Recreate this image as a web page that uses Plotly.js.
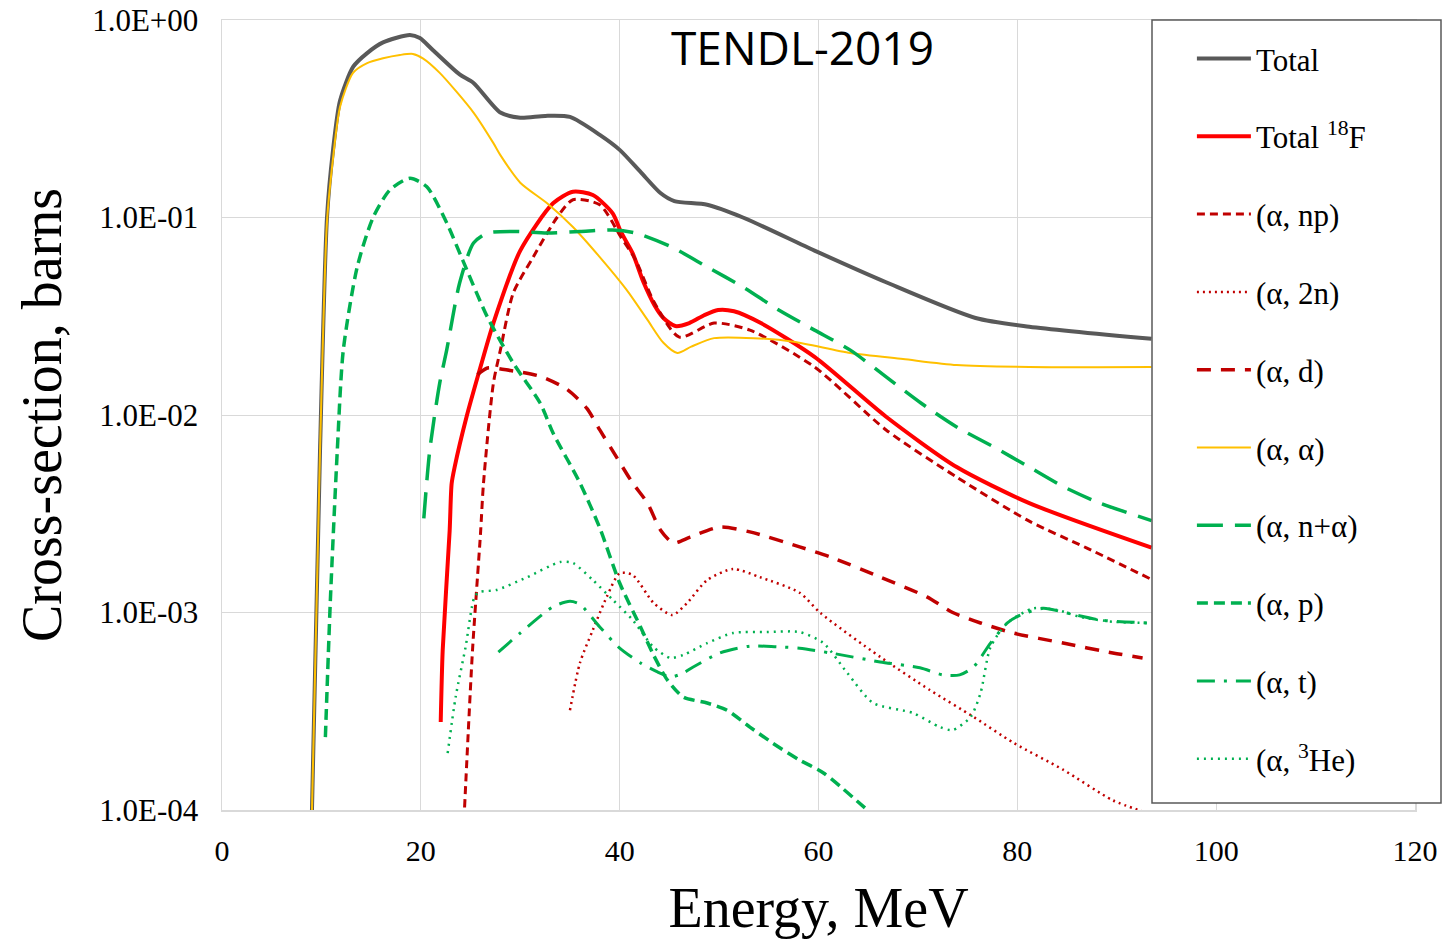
<!DOCTYPE html>
<html>
<head>
<meta charset="utf-8">
<script src="https://cdn.plot.ly/plotly-3.0.1.min.js"></script>
<style>html,body{margin:0;padding:0;background:#fff;}#chart{width:1443px;height:942px;}</style>
</head>
<body>
<div id="chart"></div>
<script>
// ---- data (energy in MeV, cross-section in barns) ----
const totalE = [9.05, 9.86, 10.56, 11.17, 11.87, 13.2, 14.6, 16.2, 18.9, 19.9, 21.2, 23.9, 25.3, 28.0, 30.0, 32.5, 35.0, 38.0, 40.0, 42.1, 44.1, 45.5, 48.8, 52.4, 59.6, 66.8, 75.8, 81.2, 93.5];
const totalS = [1.0e-4, 0.0066, 0.10, 0.22, 0.39, 0.58, 0.68, 0.77, 0.84, 0.81, 0.705, 0.53, 0.48, 0.34, 0.32, 0.327, 0.323, 0.262, 0.22, 0.17, 0.133, 0.121, 0.116, 0.10, 0.068, 0.047, 0.031, 0.028, 0.0243];

const f18E = [22.0, 22.2, 22.9, 23.1, 23.4, 24.6, 26.0, 27.3, 30.0, 33.3, 35.3, 37.3, 39.3, 40.1, 41.3, 42.4, 43.5, 44.4, 45.6, 47.0, 48.5, 49.9, 51.5, 54.2, 59.6, 66.8, 73.9, 81.2, 93.5];
const f18S = [2.79e-4, 6.46e-4, 2.6e-3, 4.5e-3, 5.45e-3, 9.8e-3, 0.0175, 0.0292, 0.068, 0.118, 0.135, 0.13, 0.105, 0.085, 0.066, 0.047, 0.036, 0.031, 0.0282, 0.0292, 0.032, 0.034, 0.0335, 0.0292, 0.0197, 0.0098, 0.00545, 0.00358, 0.00213];

const npE = [24.4, 25.2, 26.0, 26.3, 27.3, 28.0, 29.3, 31.3, 33.7, 35.3, 38.0, 40.1, 41.6, 43.5, 46.0, 49.5, 53.1, 59.6, 66.8, 73.9, 81.2, 87.0, 93.5];
const npS = [1.03e-4, 6.46e-4, 2.5e-3, 4.5e-3, 0.0145, 0.0213, 0.0415, 0.063, 0.10, 0.123, 0.116, 0.08, 0.061, 0.037, 0.0248, 0.0292, 0.0269, 0.0175, 0.0084, 0.00485, 0.0029, 0.00212, 0.00147];

const a2nE = [35.0, 36.0, 37.3, 38.7, 40.0, 41.3, 43.4, 45.3, 46.8, 48.8, 51.4, 54.1, 58.1, 60.2, 66.2, 71.2, 75.6, 79.6, 84.6, 89.6, 92.7];
const a2nS = [3.2e-4, 5.55e-4, 8.15e-4, 1.2e-3, 1.58e-3, 1.55e-3, 1.12e-3, 9.7e-4, 1.12e-3, 1.46e-3, 1.66e-3, 1.51e-3, 1.26e-3, 9.94e-4, 5.96e-4, 4.05e-4, 2.96e-4, 2.19e-4, 1.6e-4, 1.12e-4, 9.8e-5];

const adE = [25.7, 26.7, 29.0, 32.0, 34.7, 36.7, 38.0, 39.7, 41.3, 42.8, 44.1, 45.4, 47.1, 50.1, 53.1, 58.1, 61.2, 66.2, 70.9, 73.5, 76.3, 79.6, 84.6, 89.6, 92.6];
const adS = [0.0160, 0.0173, 0.0168, 0.0157, 0.0135, 0.0108, 0.0084, 0.0061, 0.00453, 0.00358, 0.00262, 0.00225, 0.00241, 0.00271, 0.00256, 0.00215, 0.00191, 0.00151, 0.0012, 0.0010, 8.85e-4, 7.87e-4, 7.0e-4, 6.24e-4, 5.89e-4];

const aaE = [9.05, 9.86, 10.56, 11.17, 11.87, 13.18, 14.6, 16.2, 17.9, 19.2, 20.2, 21.9, 25.3, 27.3, 28.0, 30.0, 32.7, 35.3, 38.0, 40.7, 42.8, 44.4, 45.8, 47.2, 49.5, 53.5, 57.5, 63.2, 68.5, 73.9, 81.2, 93.5];
const aaS = [1.0e-4, 0.0066, 0.095, 0.20, 0.363, 0.54, 0.605, 0.64, 0.665, 0.673, 0.64, 0.54, 0.34, 0.238, 0.207, 0.15, 0.118, 0.0895, 0.063, 0.043, 0.0303, 0.0232, 0.0206, 0.0222, 0.0245, 0.0245, 0.0235, 0.0206, 0.0192, 0.0179, 0.0175, 0.0175];

const naE = [20.3, 20.9, 21.9, 22.6, 23.9, 25.3, 26.7, 29.3, 32.7, 36.0, 39.3, 41.6, 45.2, 48.8, 52.4, 56.0, 59.6, 63.2, 66.8, 70.3, 73.9, 77.6, 81.2, 84.7, 88.3, 93.5];
const naS = [3.0e-3, 6.65e-3, 0.0145, 0.0213, 0.0466, 0.0743, 0.0835, 0.085, 0.0835, 0.085, 0.0865, 0.0835, 0.071, 0.0562, 0.0445, 0.034, 0.0269, 0.0213, 0.0156, 0.0115, 0.0087, 0.0069, 0.00545, 0.00432, 0.00358, 0.00292];

const apE = [10.4, 10.9, 11.6, 12.2, 13.6, 15.2, 16.9, 18.9, 20.6, 22.6, 24.2, 26.7, 29.3, 32.0, 33.3, 36.0, 38.0, 40.0, 42.1, 43.4, 44.8, 46.4, 48.8, 50.8, 53.1, 55.4, 58.1, 60.5, 65.2];
const apS = [2.34e-4, 1.15e-3, 6.65e-3, 0.0213, 0.0561, 0.10, 0.138, 0.158, 0.143, 0.094, 0.061, 0.0313, 0.0183, 0.0115, 0.0081, 0.00453, 0.00268, 0.00141, 8.45e-4, 6.1e-4, 4.55e-4, 3.73e-4, 3.48e-4, 3.2e-4, 2.63e-4, 2.18e-4, 1.79e-4, 1.54e-4, 9.7e-5];

const atE = [27.8, 30.0, 33.3, 35.0, 36.0, 38.0, 40.0, 42.1, 43.8, 45.1, 46.4, 47.4, 50.1, 53.1, 55.8, 58.1, 61.2, 66.2, 70.2, 72.5, 74.2, 75.6, 77.3, 79.0, 80.3, 82.6, 85.0, 88.3, 93.1];
const atS = [6.3e-4, 7.87e-4, 1.07e-3, 1.14e-3, 1.1e-3, 8.45e-4, 6.6e-4, 5.55e-4, 5.0e-4, 4.71e-4, 4.94e-4, 5.3e-4, 6.24e-4, 6.76e-4, 6.7e-4, 6.6e-4, 6.24e-4, 5.62e-4, 5.25e-4, 4.83e-4, 4.83e-4, 5.3e-4, 7.0e-4, 8.85e-4, 9.7e-4, 1.05e-3, 9.94e-4, 9.17e-4, 8.85e-4];

const heE = [22.7, 23.5, 24.5, 25.4, 25.9, 27.6, 30.7, 34.0, 35.3, 37.3, 39.3, 41.3, 43.4, 45.1, 46.4, 48.8, 51.4, 54.8, 58.1, 60.5, 62.9, 65.5, 69.5, 72.2, 73.5, 75.3, 76.3, 77.3, 79.0, 81.6, 84.0, 86.3, 89.6, 93.1];
const heS = [1.94e-4, 3.73e-4, 6.68e-4, 1.2e-3, 1.27e-3, 1.3e-3, 1.51e-3, 1.8e-3, 1.78e-3, 1.46e-3, 1.16e-3, 9.17e-4, 6.68e-4, 5.89e-4, 6.1e-4, 7.0e-4, 7.87e-4, 7.96e-4, 7.96e-4, 7.0e-4, 4.94e-4, 3.48e-4, 3.1e-4, 2.63e-4, 2.54e-4, 2.96e-4, 3.91e-4, 6.68e-4, 8.85e-4, 1.05e-3, 1.03e-3, 9.5e-4, 8.98e-4, 8.85e-4];

const seriesNames = ['Total', 'Total <sup>18</sup>F', '(α, np)', '(α, 2n)', '(α, d)', '(α, α)', '(α, n+α)', '(α, p)', '(α, t)', '(α, <sup>3</sup>He)'];
const yTickVals = [1e-4, 1e-3, 1e-2, 1e-1, 1];
const yTickText = ['1.0E-04', '1.0E-03', '1.0E-02', '1.0E-01', '1.0E+00'];
const xTickVals = [0, 20, 40, 60, 80, 100, 120];
const chartTitle = 'TENDL-2019';

// ---- styles ----
const GRAY = '#595959', RED = '#ff0000', DRED = '#c00000', YEL = '#ffc000', GRN = '#00b050';
function tr(x, y, i, color, width, dash) {
  return {
    x: x, y: y, name: seriesNames[i], legendgroup: 'g' + i,
    type: 'scatter', mode: 'lines',
    line: {color: color, width: width, dash: dash, shape: 'spline', smoothing: 0.7},
    hoverinfo: 'skip'
  };
}
const data = [
  tr(totalE, totalS, 0, GRAY, 4, 'solid'),
  tr(f18E, f18S, 1, RED, 4, 'solid'),
  tr(npE, npS, 2, DRED, 3, '8px,5px'),
  tr(a2nE, a2nS, 3, DRED, 2.5, '2px,4px'),
  tr(adE, adS, 4, DRED, 3.5, '14px,10px'),
  tr(aaE, aaS, 5, YEL, 2, 'solid'),
  tr(naE, naS, 6, GRN, 3.5, '26px,12px'),
  tr(apE, apS, 7, GRN, 3.5, '11px,6px'),
  tr(atE, atS, 8, GRN, 3, '18px,9px,3px,9px'),
  tr(heE, heS, 9, GRN, 2.5, '2px,5px')
];

const serif = 'Liberation Serif, Times New Roman, serif';
const layout = {
  width: 1443, height: 942,
  margin: {l: 222, r: 28, t: 20, b: 132},
  paper_bgcolor: '#fff', plot_bgcolor: '#fff',
  showlegend: true,
  xaxis: {
    range: [0, 120], tickvals: xTickVals, ticks: '',
    ticklabelstandoff: 13,
    tickfont: {family: serif, size: 30, color: '#000'},
    showgrid: true, gridcolor: '#d9d9d9', gridwidth: 1,
    zeroline: false, showline: true, linecolor: '#d9d9d9', linewidth: 1.5, mirror: true,
    title: {text: 'Energy, MeV', font: {family: serif, size: 56, color: '#000'}, standoff: 22}
  },
  yaxis: {
    type: 'log', range: [-4, 0], tickvals: yTickVals, ticktext: yTickText, ticks: '',
    ticklabelstandoff: 16,
    tickfont: {family: serif, size: 31, color: '#000'},
    showgrid: true, gridcolor: '#d9d9d9', gridwidth: 1,
    zeroline: false, showline: true, linecolor: '#d9d9d9', linewidth: 1.5, mirror: true,
    title: {text: 'Cross-section, barns', font: {family: serif, size: 56, color: '#000'}, standoff: 12}
  },
  legend: {
    x: 0.813, xanchor: 'left', y: 0.985, yanchor: 'top',
    bgcolor: 'rgba(0,0,0,0)', borderwidth: 0,
    font: {family: serif, size: 31, color: '#000'},
    traceorder: 'grouped', tracegroupgap: 34.5, itemwidth: 54
  },
  shapes: [{
    type: 'rect', xref: 'paper', yref: 'paper', layer: 'above',
    x0: (1152 - 222) / 1193, x1: (1441 - 222) / 1193, y0: (810 - 803) / 790, y1: 1,
    fillcolor: '#fff', line: {color: GRAY, width: 1.5}
  }],
  annotations: [{
    text: chartTitle, xref: 'paper', yref: 'paper', x: (802 - 222) / 1193, y: 1 - (47 - 20) / 790,
    xanchor: 'center', yanchor: 'middle', showarrow: false,
    font: {family: 'Open Sans, Noto Sans, sans-serif', size: 46, color: '#000'}
  }]
};

Plotly.newPlot('chart', data, layout, {displayModeBar: false, staticPlot: true});
</script>
</body>
</html>
